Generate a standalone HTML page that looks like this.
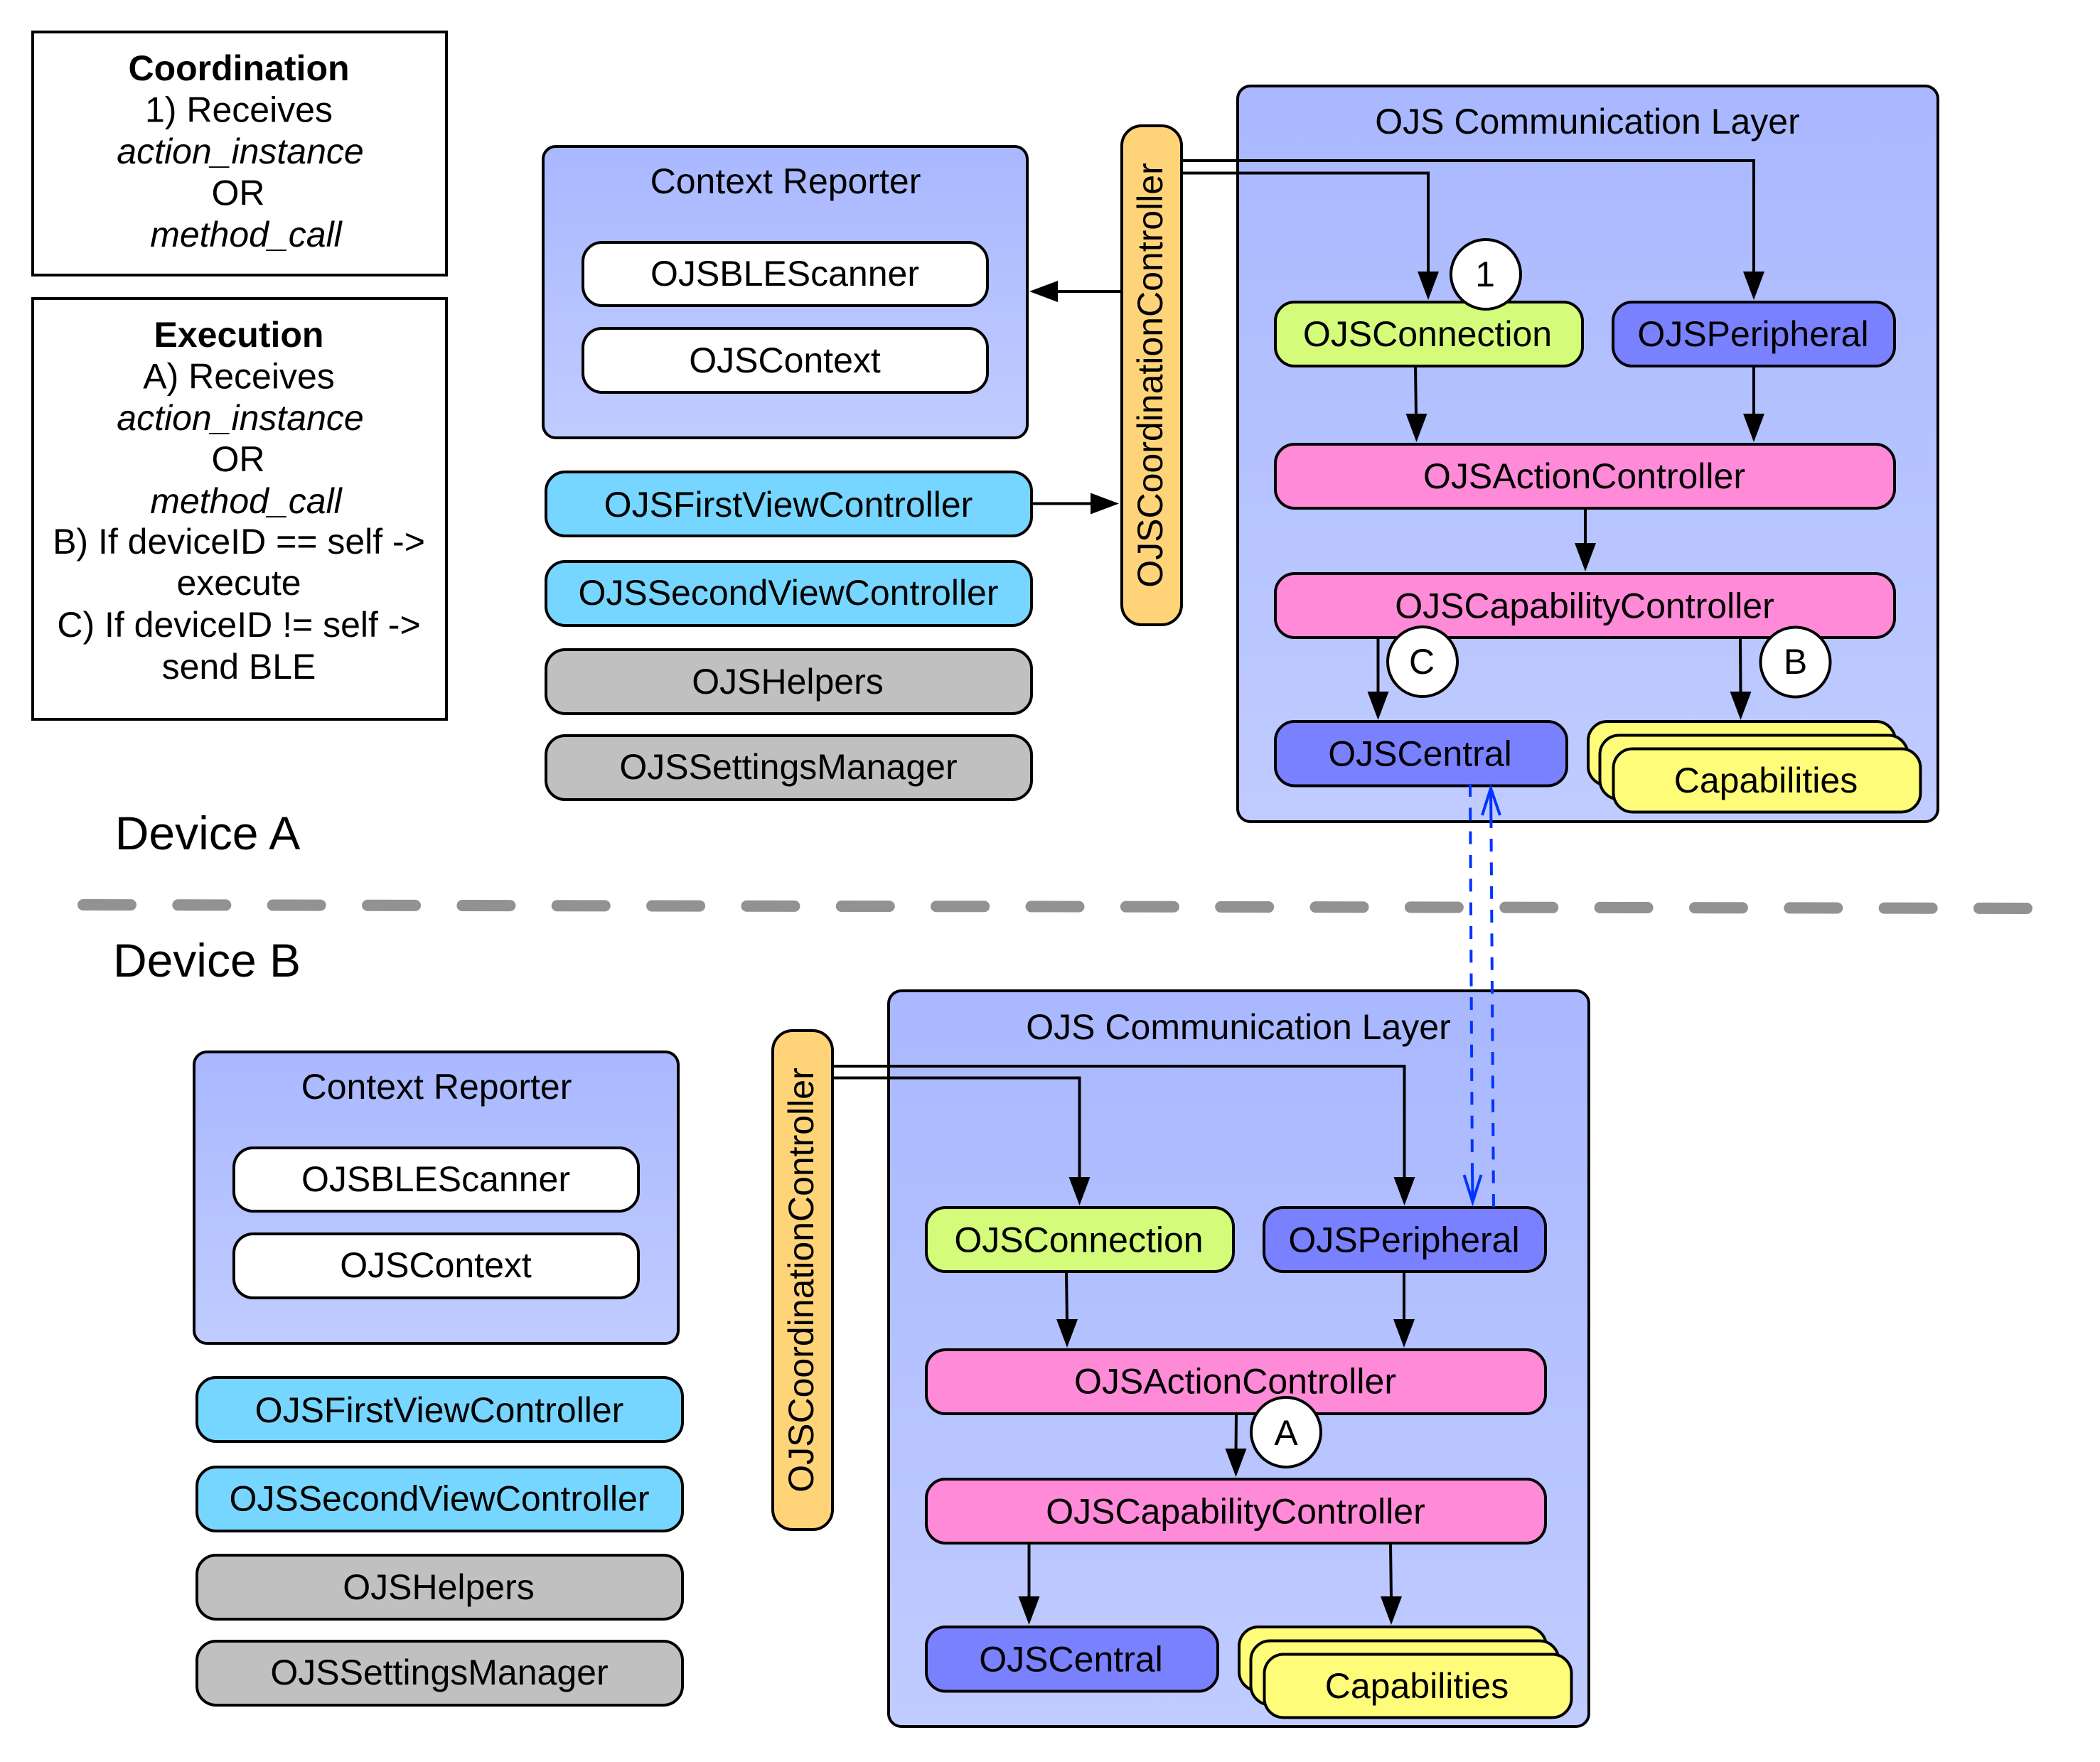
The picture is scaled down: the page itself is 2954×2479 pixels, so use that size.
<!DOCTYPE html>
<html><head><meta charset="utf-8"><style>
html,body{margin:0;padding:0;background:#fff}
svg{display:block}
text{font-family:"Liberation Sans",Arial,sans-serif;font-size:50px;fill:#000;text-anchor:middle}
.s{stroke:#000;stroke-width:4}
.l{stroke:#000;stroke-width:4;fill:none}
.n{stroke:#000;stroke-width:4}
.b{stroke:#0433ff;stroke-width:4;fill:none;stroke-dasharray:18 15.33}
.bs{stroke:#0433ff;stroke-width:4;fill:none}
</style></head><body>
<svg xmlns="http://www.w3.org/2000/svg" width="2954" height="2479" viewBox="0 0 2954 2479">
<defs><linearGradient id="g" x1="0" y1="0" x2="0" y2="1"><stop offset="0" stop-color="#a9b8ff"/><stop offset="1" stop-color="#c0ccff"/></linearGradient></defs>
<rect width="2954" height="2479" fill="#fff"/>

<!-- Notes -->
<rect x="46" y="45" width="582" height="342" fill="#fff" class="n"/>
<rect x="46" y="420" width="582" height="592" fill="#fff" class="n"/>
<text x="336" y="113" font-weight="bold">Coordination</text>
<text x="336" y="171.5">1) Receives</text>
<text x="338" y="230" font-style="italic">action_instance</text>
<text x="335" y="288.5">OR</text>
<text x="346" y="347" font-style="italic">method_call</text>
<text x="336" y="488" font-weight="bold">Execution</text>
<text x="336" y="546.5">A) Receives</text>
<text x="338" y="605" font-style="italic">action_instance</text>
<text x="335" y="663">OR</text>
<text x="346" y="722" font-style="italic">method_call</text>
<text x="336" y="779">B) If deviceID == self -&gt;</text>
<text x="336" y="837">execute</text>
<text x="336" y="896">C) If deviceID != self -&gt;</text>
<text x="336" y="955">send BLE</text>

<text x="292" y="1195" style="font-size:66px">Device A</text>
<text x="291" y="1374" style="font-size:66px">Device B</text>

<!-- Divider -->
<line x1="117" y1="1273" x2="2858" y2="1278" stroke="#929292" stroke-width="16" stroke-linecap="round" stroke-dasharray="67 66.35"/>

<!-- Device A left -->
<g>
<rect x="764" y="206" width="681" height="410" rx="18" fill="url(#g)" class="n"/>
<text x="1105" y="272">Context Reporter</text>
<rect x="820" y="341" width="569" height="89" rx="27" fill="#fff" class="n"/>
<text x="1104" y="402">OJSBLEScanner</text>
<rect x="820" y="462" width="569" height="90" rx="27" fill="#fff" class="n"/>
<text x="1104" y="524">OJSContext</text>
<rect x="768" y="664" width="683" height="90" rx="27" fill="#76d6ff" class="n"/>
<text x="1109" y="727">OJSFirstViewController</text>
<rect x="768" y="790" width="683" height="90" rx="27" fill="#76d6ff" class="n"/>
<text x="1109" y="851">OJSSecondViewController</text>
<rect x="768" y="914" width="683" height="90" rx="27" fill="#c0c0c0" class="n"/>
<text x="1108" y="976">OJSHelpers</text>
<rect x="768" y="1035" width="683" height="90" rx="27" fill="#c0c0c0" class="n"/>
<text x="1109" y="1096">OJSSettingsManager</text>
</g>

<!-- Device A comm layer -->
<rect x="1741" y="121" width="985" height="1035" rx="18" fill="url(#g)" class="n"/>
<text x="2233" y="188">OJS Communication Layer</text>
<rect x="1578" y="177" width="84" height="702" rx="28" fill="#ffd479" class="n"/>
<text transform="translate(1635 528) rotate(-90)" x="0" y="0">OJSCoordinationController</text>

<path class="l" d="M1664 226H2467V385"/>
<path class="l" d="M1664 243.5H2009V385"/>
<polygon points="1994,382 2024,382 2009,422"/>
<polygon points="2452,382 2482,382 2467,422"/>
<line class="s" x1="1578" y1="410" x2="1485" y2="410"/>
<polygon points="1448,410 1488,395 1488,425"/>
<line class="s" x1="1451" y1="708.5" x2="1540" y2="708.5"/>
<polygon points="1574,708.5 1534,693.5 1534,723.5"/>

<rect x="1794" y="425" width="432" height="90" rx="27" fill="#d4fb79" class="n"/>
<text x="2008" y="487">OJSConnection</text>
<rect x="2269" y="425" width="396" height="90" rx="27" fill="#7a81ff" class="n"/>
<text x="2466" y="487">OJSPeripheral</text>
<circle cx="2090" cy="386" r="49" fill="#fff" class="n"/>
<text x="2089" y="403">1</text>

<line class="s" x1="1991" y1="515" x2="1992" y2="585"/>
<polygon points="1977.5,582 2007.5,582 1992.5,622"/>
<line class="s" x1="2467" y1="515" x2="2467" y2="585"/>
<polygon points="2452,582 2482,582 2467,622"/>

<rect x="1794" y="625" width="871" height="90" rx="27" fill="#ff8ad8" class="n"/>
<text x="2228.5" y="687">OJSActionController</text>
<line class="s" x1="2230" y1="715" x2="2230" y2="768"/>
<polygon points="2215,764 2245,764 2230,804"/>
<rect x="1794" y="807" width="871" height="90" rx="27" fill="#ff8ad8" class="n"/>
<text x="2229" y="869.5">OJSCapabilityController</text>

<line class="s" x1="1938.5" y1="897" x2="1938.5" y2="976"/>
<polygon points="1923.5,973 1953.5,973 1938.5,1013"/>
<line class="s" x1="2448" y1="897" x2="2448.5" y2="976"/>
<polygon points="2433.5,973 2463.5,973 2448.5,1013"/>
<circle cx="2001" cy="931" r="49" fill="#fff" class="n"/>
<text x="2000" y="948">C</text>
<circle cx="2525.5" cy="931.5" r="49" fill="#fff" class="n"/>
<text x="2525.5" y="948">B</text>

<rect x="1794" y="1015" width="410" height="90.5" rx="27" fill="#7a81ff" class="n"/>
<text x="1997.5" y="1077.5">OJSCentral</text>
<rect x="2234" y="1015" width="432" height="90" rx="27" fill="#fffc79" class="n"/>
<rect x="2250.5" y="1034.5" width="433" height="90" rx="27" fill="#fffc79" class="n"/>
<rect x="2269.5" y="1053.5" width="432" height="89" rx="27" fill="#fffc79" class="n"/>
<text x="2484" y="1115">Capabilities</text>

<!-- Device B left -->
<g>
<rect x="273" y="1480" width="681" height="410" rx="18" fill="url(#g)" class="n"/>
<text x="614" y="1546">Context Reporter</text>
<rect x="329" y="1615" width="569" height="89" rx="27" fill="#fff" class="n"/>
<text x="613" y="1676">OJSBLEScanner</text>
<rect x="329" y="1736" width="569" height="90" rx="27" fill="#fff" class="n"/>
<text x="613" y="1797">OJSContext</text>
<rect x="277" y="1938" width="683" height="90" rx="27" fill="#76d6ff" class="n"/>
<text x="618" y="2001">OJSFirstViewController</text>
<rect x="277" y="2064" width="683" height="90" rx="27" fill="#76d6ff" class="n"/>
<text x="618" y="2125.5">OJSSecondViewController</text>
<rect x="277" y="2188" width="683" height="90" rx="27" fill="#c0c0c0" class="n"/>
<text x="617" y="2250">OJSHelpers</text>
<rect x="277" y="2309" width="683" height="90" rx="27" fill="#c0c0c0" class="n"/>
<text x="618" y="2370">OJSSettingsManager</text>
</g>

<!-- Device B comm layer -->
<rect x="1250" y="1394" width="985" height="1035" rx="18" fill="url(#g)" class="n"/>
<text x="1742" y="1462">OJS Communication Layer</text>
<rect x="1087" y="1450" width="84" height="702" rx="28" fill="#ffd479" class="n"/>
<text transform="translate(1144 1801) rotate(-90)" x="0" y="0">OJSCoordinationController</text>

<path class="l" d="M1173 1500H1975.5V1659"/>
<path class="l" d="M1173 1516.5H1518.5V1659"/>
<polygon points="1503.5,1656 1533.5,1656 1518.5,1696"/>
<polygon points="1960.5,1656 1990.5,1656 1975.5,1696"/>

<rect x="1303" y="1699" width="432" height="90" rx="27" fill="#d4fb79" class="n"/>
<text x="1517.5" y="1761.5">OJSConnection</text>
<rect x="1778" y="1699" width="396" height="90" rx="27" fill="#7a81ff" class="n"/>
<text x="1975" y="1761.5">OJSPeripheral</text>

<line class="s" x1="1500" y1="1789" x2="1501" y2="1860"/>
<polygon points="1486,1856 1516,1856 1501,1896"/>
<line class="s" x1="1975" y1="1789" x2="1975" y2="1860"/>
<polygon points="1960,1856 1990,1856 1975,1896"/>

<rect x="1303" y="1899" width="871" height="90" rx="27" fill="#ff8ad8" class="n"/>
<text x="1737.5" y="1960.5">OJSActionController</text>
<line class="s" x1="1739" y1="1989" x2="1738.5" y2="2042"/>
<polygon points="1723.5,2038 1753.5,2038 1738.5,2078"/>
<circle cx="1809" cy="2015" r="49" fill="#fff" class="n"/>
<text x="1809" y="2033">A</text>
<rect x="1303" y="2081" width="871" height="90" rx="27" fill="#ff8ad8" class="n"/>
<text x="1738" y="2143.5">OJSCapabilityController</text>

<line class="s" x1="1447.5" y1="2171" x2="1447.5" y2="2250"/>
<polygon points="1432.5,2246 1462.5,2246 1447.5,2286"/>
<line class="s" x1="1956" y1="2171" x2="1957" y2="2250"/>
<polygon points="1942,2246 1972,2246 1957,2286"/>

<rect x="1303" y="2289" width="410" height="90.5" rx="27" fill="#7a81ff" class="n"/>
<text x="1506.5" y="2351.5">OJSCentral</text>
<rect x="1743" y="2289" width="432" height="90" rx="27" fill="#fffc79" class="n"/>
<rect x="1759.5" y="2308.5" width="433" height="90" rx="27" fill="#fffc79" class="n"/>
<rect x="1778.5" y="2327.5" width="432" height="89" rx="27" fill="#fffc79" class="n"/>
<text x="1993" y="2389">Capabilities</text>

<!-- Blue connectors -->
<line class="b" x1="2068" y1="1103" x2="2071" y2="1650"/>
<line class="bs" x1="2071" y1="1640" x2="2071.5" y2="1690"/>
<polyline class="bs" points="2059.5,1653 2071.5,1691 2083.5,1653"/>
<line class="b" x1="2101" y1="1698" x2="2097.5" y2="1165"/>
<line class="bs" x1="2097.5" y1="1165" x2="2097" y2="1110"/>
<polyline class="bs" points="2085,1147 2097,1109 2110,1147"/>
</svg>
</body></html>
